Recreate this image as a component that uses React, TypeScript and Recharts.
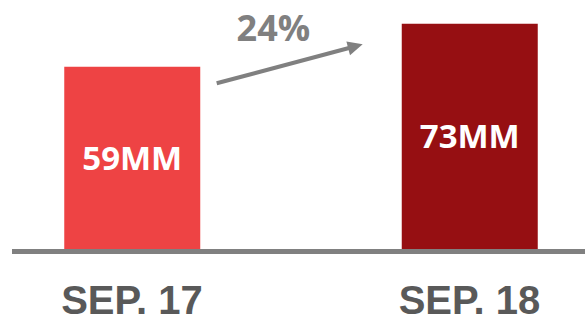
import { BarChart, Bar, XAxis, YAxis, LabelList, Cell } from "recharts";

const periods = ["SEP. 17", "SEP. 18"];
const users = [59, 73];
const valueLabels = ["59MM", "73MM"];
const barColors = ["#EE4344", "#960F12"];
const growthLabel = "24%";

const data = periods.map((p, i) => ({ period: p, value: users[i], label: valueLabels[i] }));

const PeriodTick = (props: any) => {
  const { x, y, payload } = props;
  return (
    <text
      x={x}
      y={y + 62}
      textAnchor="middle"
      fill="#595959"
      fontFamily="'Liberation Sans', Arial, sans-serif"
      fontWeight="bold"
      fontSize={40}
    >
      {payload.value}
    </text>
  );
};

export default function App() {
  return (
    <div
      style={{
        position: "absolute",
        left: 0,
        top: 0,
        width: 585,
        height: 318,
        overflow: "hidden",
        background: "#fff",
      }}
    >
      <BarChart
        width={585}
        height={318}
        data={data}
        margin={{ top: 23.4, right: 0, left: 12, bottom: 0 }}
        barCategoryGap={0}
      >
        <XAxis
          dataKey="period"
          height={66.5}
          padding={{ left: -48.75, right: -53.25 }}
          axisLine={{ stroke: "#808080", strokeWidth: 5 }}
          tickLine={false}
          tickSize={0}
          tickMargin={0}
          tick={<PeriodTick />}
          interval={0}
        />
        <YAxis hide domain={[-0.81, 73]} allowDataOverflow />
        <Bar dataKey="value" barSize={136} isAnimationActive={false}>
          {data.map((d, i) => (
            <Cell key={d.period} fill={barColors[i]} />
          ))}
          <LabelList
            dataKey="label"
            position="center"
            fill="#fff"
            fontFamily="'Open Sans', sans-serif"
            fontWeight="bold"
            fontSize={33}
          />
        </Bar>
      </BarChart>
      {/* growth annotation */}
      <svg
        width={585}
        height={318}
        style={{ position: "absolute", left: 0, top: 0, pointerEvents: "none" }}
      >
        <line x1={216.7} y1={83.3} x2={349} y2={48} stroke="#808080" strokeWidth={4} />
        <polygon points="362.7,44.3 350,55.2 346.4,41.4" fill="#808080" />
        <text
          x={273.4}
          y={40.7}
          textAnchor="middle"
          fill="#808080"
          fontFamily="'Open Sans', sans-serif"
          fontWeight="bold"
          fontSize={36}
        >
          {growthLabel}
        </text>
      </svg>
    </div>
  );
}
